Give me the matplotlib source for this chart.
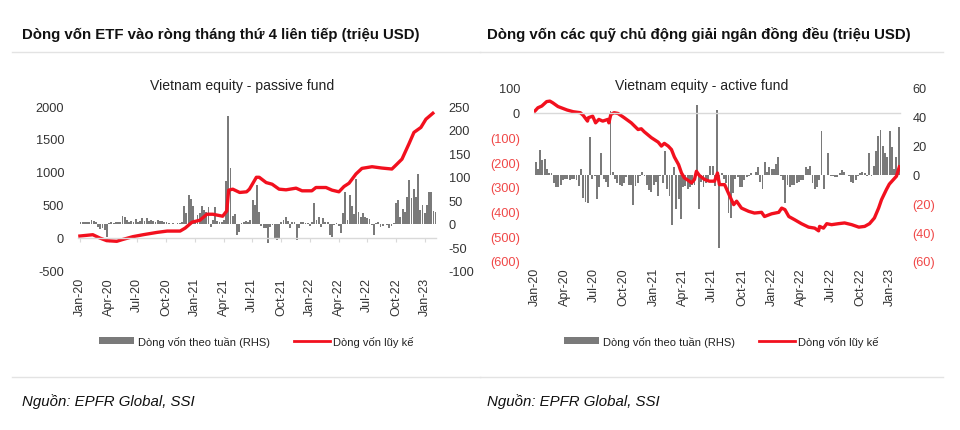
import matplotlib
matplotlib.use('Agg')
import matplotlib.pyplot as plt
import matplotlib.dates as mdates
from matplotlib import font_manager
from matplotlib.patches import Patch
from matplotlib.lines import Line2D
import pandas as pd

names = {f.name for f in font_manager.fontManager.ttflist}
NARROW = 'Liberation Sans Narrow' if 'Liberation Sans Narrow' in names else 'Liberation Sans'
FAM = [NARROW, 'DejaVu Sans']
plt.rcParams['font.family'] = FAM

# ---------------- data: passive fund (left panel) ----------------
passive_bar_start = '2020-01-03'
passive_weekly = [5, 4, 5, 3, 4, 8, 6, 4, -6, -10, -8, -12, -27, 2, 3, 2, 4, 3, 5, 16,
                  14, 8, 4, 6, 3, 10, 5, 6, 12, 7, 12, 6, 8, 7, 5, 8, 6, 7, 5, 3,
                  1, 0, 1, 0, 2, 1, 3, 37, 22, 61, 52, 38, 9, 18, 24, 38, 30, 26, 36, -6,
                  8, 36, 6, 5, 4, 8, 90, 229, 118, 17, 20, -23, -18, 2, 4, 6, 5, 8, 51, 40,
                  82, 26, -4, -9, -9, -40, -6, -2, -32, -34, -30, 5, 8, 15, 6, -9, 4, 3, -34, -8,
                  5, 3, 2, 1, -4, 3, 44, 8, 15, -6, 12, 4, 5, -23, -27, -2, 1, -4, -20, 23,
                  68, 8, 61, 37, 20, 96, 26, 15, 23, 14, 12, 10, -2, -23, 1, 3, -6, -4, 0, -2,
                  -9, -5, 2, 44, 51, 15, 32, 26, 58, 93, 54, 75, 58, 106, 30, 40, 22, 40, 68, 68,
                  28, 26]
passive_cum_dates = ['2020-01-01', '2020-02-11', '2020-03-04', '2020-03-26', '2020-04-27', '2020-05-14',
                     '2020-06-17', '2020-07-20', '2020-09-02', '2020-10-04', '2020-11-14', '2020-11-30',
                     '2020-12-22', '2021-01-16', '2021-02-07', '2021-02-26', '2021-03-29', '2021-04-11',
                     '2021-04-17', '2021-04-30', '2021-05-22', '2021-06-13', '2021-06-22', '2021-07-14',
                     '2021-07-23', '2021-08-14', '2021-09-02', '2021-09-24', '2021-10-16', '2021-11-17',
                     '2021-12-06', '2022-01-06', '2022-01-19', '2022-02-20', '2022-03-11', '2022-04-02',
                     '2022-04-18', '2022-05-04', '2022-05-26', '2022-06-14', '2022-07-16', '2022-08-16',
                     '2022-09-17', '2022-09-30', '2022-10-19', '2022-11-10', '2022-11-26', '2022-12-18',
                     '2023-01-03', '2023-01-25']
passive_cum = [30, 50, 0, -40, -50, -25, 20, 50, 85, 105, 105, 150, 240, 270, 360, 360, 330, 410, 725, 740,
               690, 700, 740, 920, 920, 840, 815, 740, 730, 755, 715, 715, 765, 765, 725, 700, 780, 830, 970, 1055,
               1080, 1060, 1045, 1105, 1195, 1425, 1600, 1675, 1800, 1890]

# ---------------- data: active fund (right panel) ----------------
active_bar_start = '2020-01-03'
active_weekly = [9, 4, 17, 10, 11, 4, 1, 1, -6, -9, -9, -7, -4, -3, -3, -4, -3, -3, -4, -8,
                 4, -16, -19, -20, 26, -3, -1, -17, -9, 15, -3, -5, -9, 44, 2, -3, -6, -7, -8, -6,
                 -2, -7, -7, -21, -8, -6, -1, 2, -1, -7, -11, -12, -7, -5, -15, -1, -6, 16, -10, -15,
                 -35, 5, -24, -17, -31, -9, -8, -10, -9, -7, -7, 48, -24, -5, -9, -6, -4, 6, 6, -8,
                 45, -51, 1, -3, -6, -27, -30, -13, -3, -2, -9, -9, -4, -2, -1, 1, 0, 2, 5, -5,
                 -10, 9, 2, 5, 4, 4, 7, 12, -1, -4, -20, -7, -9, -7, -7, -6, -5, -4, -4, 5,
                 4, 6, -6, -10, -9, -4, 30, -10, 0, 15, -1, -1, -2, -2, 1, 3, 2, 0, -1, -5,
                 -6, -4, -1, 1, 2, 1, -1, 15, -1, 6, 16, 27, 31, 20, 15, 12, 30, 19, 4, 12,
                 33]
active_cum_dates = ['2020-01-01', '2020-01-10', '2020-01-22', '2020-02-06', '2020-02-16', '2020-02-25',
                    '2020-03-12', '2020-04-09', '2020-04-28', '2020-05-20', '2020-05-29', '2020-06-11',
                    '2020-06-14', '2020-06-27', '2020-07-06', '2020-07-16', '2020-07-28', '2020-08-13',
                    '2020-08-16', '2020-08-22', '2020-09-01', '2020-09-13', '2020-10-02', '2020-10-24',
                    '2020-11-14', '2020-11-24', '2020-12-03', '2020-12-25', '2021-01-15', '2021-01-25',
                    '2021-02-03', '2021-02-15', '2021-02-25', '2021-03-06', '2021-03-19', '2021-03-28',
                    '2021-04-06', '2021-04-19', '2021-04-28', '2021-05-07', '2021-05-13', '2021-05-22',
                    '2021-06-07', '2021-06-22', '2021-07-08', '2021-07-17', '2021-07-23', '2021-08-08',
                    '2021-08-23', '2021-09-05', '2021-09-14', '2021-09-29', '2021-10-21', '2021-11-08',
                    '2021-11-30', '2021-12-09', '2021-12-31', '2022-01-22', '2022-01-31', '2022-02-10',
                    '2022-02-22', '2022-03-12', '2022-04-02', '2022-04-24', '2022-05-13', '2022-05-25',
                    '2022-05-28', '2022-06-09', '2022-06-19', '2022-07-04', '2022-07-25', '2022-08-13',
                    '2022-09-04', '2022-09-26', '2022-10-14', '2022-10-29', '2022-11-13', '2022-11-26',
                    '2022-12-05', '2022-12-20', '2022-12-29', '2023-01-11', '2023-01-20', '2023-01-29']
active_cum = [7, 20, 27, 45, 47, 40, 25, 11, 4, 0, -11, -34, -20, -14, -41, -27, -34, -27, -41, -7,
              0, -3, -20, -41, -68, -65, -77, -101, -119, -135, -124, -135, -149, -179, -210, -244, -264, -275, -284, -270,
              -237, -254, -270, -277, -277, -244, -291, -291, -335, -372, -358, -386, -399, -406, -403, -420, -409, -403, -386, -392,
              -420, -433, -449, -463, -467, -478, -460, -467, -449, -453, -449, -446, -453, -463, -460, -449, -426, -386, -352, -311,
              -289, -270, -257, -219]

# ---------------- labels ----------------
titles = ['Dòng vốn ETF vào ròng tháng thứ 4 liên tiếp (triệu USD)',
          'Dòng vốn các quỹ chủ động giải ngân đồng đều (triệu USD)']
subtitles = ['Vietnam equity - passive fund', 'Vietnam equity - active fund']
legend_labels = ['Dòng vốn theo tuần (RHS)', 'Dòng vốn lũy kế']
source = 'Nguồn: EPFR Global, SSI'

passive_left_ticks = [-500, 0, 500, 1000, 1500, 2000]
passive_right_ticks = [-100, -50, 0, 50, 100, 150, 200, 250]
active_left_ticks = [-600, -500, -400, -300, -200, -100, 0, 100]
active_right_ticks = [-60, -40, -20, 0, 20, 40, 60]

BAR = '#7a7a7a'
RED = '#f2101e'
NEGRED = '#f04848'
TXT = '#333333'
GRID = '#d9d9d9'

W, H = 960, 431
fig = plt.figure(figsize=(W / 100, H / 100), dpi=100)


def fx(px):
    return px / W


def fy(py):
    return 1 - py / H


def paren(v):
    return f'({abs(v)})' if v < 0 else f'{v}'


def panel(rect, bar_start, weekly, cum_dates, cum, lticks, rticks, lfmt, rfmt,
          xlim, ticklen, pad, negcolor):
    ax = fig.add_axes(rect)
    ax2 = ax.twinx()
    bdates = pd.date_range(bar_start, periods=len(weekly), freq='7D')
    ax2.bar(bdates, weekly, width=5.8, color=BAR, linewidth=0)
    ax.plot(pd.to_datetime(cum_dates), cum, color=RED, lw=2.4, solid_joinstyle='round')
    ax.set_zorder(ax2.get_zorder() + 1)
    ax.patch.set_visible(False)
    ax.set_ylim(lticks[0], lticks[-1])
    ax2.set_ylim(rticks[0], rticks[-1])
    ax.set_yticks(lticks)
    ax.set_yticklabels([lfmt(v) for v in lticks])
    ax2.set_yticks(rticks)
    ax2.set_yticklabels([rfmt(v) for v in rticks])
    if negcolor:
        for lab, v in zip(ax.get_yticklabels(), lticks):
            lab.set_color(NEGRED if v < 0 else TXT)
        for lab, v in zip(ax2.get_yticklabels(), rticks):
            lab.set_color(NEGRED if v < 0 else TXT)
    else:
        for lab in ax.get_yticklabels() + ax2.get_yticklabels():
            lab.set_color(TXT)
    ax.tick_params(axis='y', length=0, labelsize=9.2, pad=10)
    ax2.tick_params(axis='y', length=0, labelsize=9.2, pad=9)
    ax.set_xlim(pd.Timestamp(xlim[0]), pd.Timestamp(xlim[1]))
    ax.xaxis.set_major_locator(mdates.MonthLocator(bymonth=[1, 4, 7, 10]))
    ax.xaxis.set_major_formatter(mdates.DateFormatter('%b-%y'))
    ax.tick_params(axis='x', length=ticklen, color=GRID, labelsize=9, pad=pad,
                   labelcolor=TXT, rotation=90)
    for s in ['top', 'left', 'right']:
        ax.spines[s].set_visible(False)
    for s in ax2.spines.values():
        s.set_visible(False)
    ax.spines['bottom'].set_position(('data', 0))
    ax.spines['bottom'].set_color(GRID)
    ax.spines['bottom'].set_linewidth(1.0)
    return ax


# left panel
panel([fx(78), fy(272), fx(358), (272 - 107) / H], passive_bar_start, passive_weekly,
      passive_cum_dates, passive_cum, passive_left_ticks, passive_right_ticks,
      lambda v: f'{v}', lambda v: f'{v}', ('2019-12-26', '2023-02-04'), 3, 25, False)

# right panel
panel([fx(534), fy(262), fx(366), (262 - 89) / H], active_bar_start, active_weekly,
      active_cum_dates, active_cum, active_left_ticks, active_right_ticks,
      paren, paren, ('2019-12-29', '2023-01-31'), 0, 111, True)

# texts
for x0, title, sub, subx, lx in [(22, titles[0], subtitles[0], 242, 256),
                                 (487, titles[1], subtitles[1], 702, 721)]:
    fig.text(fx(x0), fy(35), title, fontsize=10.8, fontweight='bold', color='#111111',
             va='center', ha='left')
    fig.text(fx(subx), fy(86), sub, fontsize=10.1, color='#222222', va='center', ha='center')
    fig.text(fx(x0), fy(402), source, fontsize=10.8, style='italic', color='#111111',
             va='center', ha='left')
    handles = [Patch(facecolor=BAR, edgecolor='none'), Line2D([], [], color=RED, lw=2)]
    fig.legend(handles, legend_labels, loc='center', bbox_to_anchor=(fx(lx), fy(342)),
               ncol=2, frameon=False, fontsize=8, handlelength=3.2, handleheight=0.6,
               handletextpad=0.3, columnspacing=2.2, labelcolor='#222222')

for (a, b) in [(12, 480), (480, 943)]:
    for yy in (53, 378):
        fig.add_artist(Line2D([fx(a), fx(b)], [fy(yy), fy(yy)], color='#e3e3e3', lw=1))

fig.savefig('out.png', dpi=100, facecolor='white')
